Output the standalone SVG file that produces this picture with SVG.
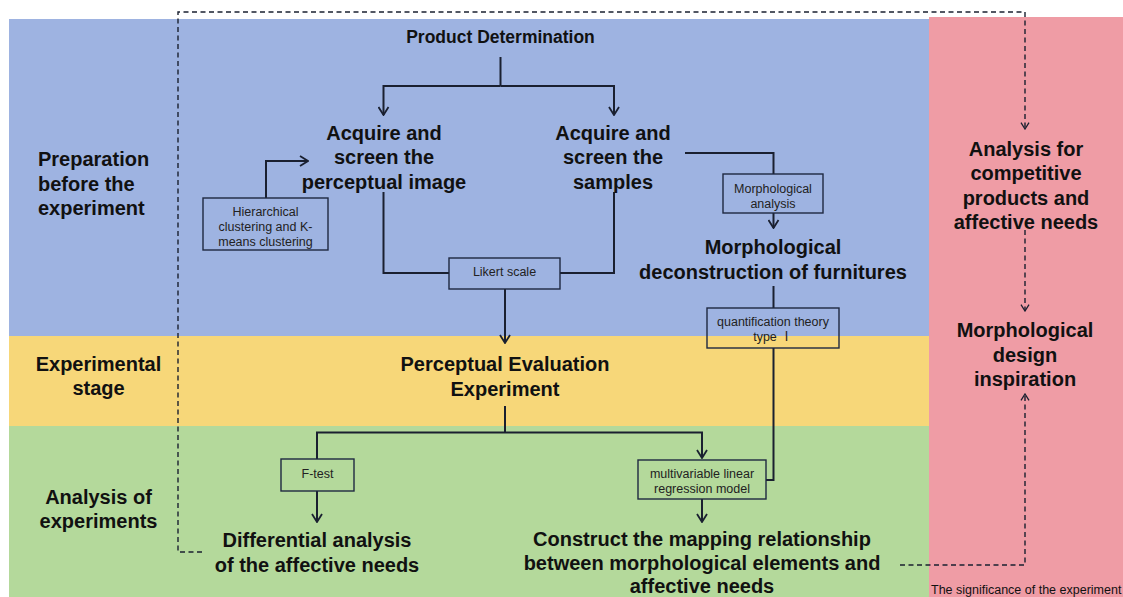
<svg xmlns="http://www.w3.org/2000/svg" width="1123" height="597" viewBox="0 0 1123 597">
<style>
.h{font-family:"Liberation Sans",Arial,sans-serif;font-weight:bold;font-size:20px;fill:#111;text-anchor:middle}
.hl{text-anchor:start}
.s{font-family:"Liberation Sans",Arial,"Noto Sans CJK SC",sans-serif;font-size:12.5px;fill:#222;text-anchor:middle}
.box{fill:none;stroke:#1f2840;stroke-width:1.4}
.c{fill:none;stroke:#1a2030;stroke-width:2}
.d{fill:none;stroke:#1a2030;stroke-width:1.4;stroke-dasharray:5 3.5}
</style>
<defs>
<marker id="a" markerUnits="userSpaceOnUse" viewBox="0 0 10 12" markerWidth="10" markerHeight="12" refX="9" refY="6" orient="auto">
<path d="M1,1 L9,6 L1,11" fill="none" stroke="#1a2030" stroke-width="1.8"/>
</marker>
<marker id="ad" markerUnits="userSpaceOnUse" viewBox="0 0 10 12" markerWidth="8" markerHeight="10" refX="9" refY="6" orient="auto">
<path d="M1,1 L9,6 L1,11" fill="none" stroke="#1a2030" stroke-width="1.6"/>
</marker>
</defs>
<rect width="1123" height="597" fill="#fff"/>
<g id="bands">
<rect x="9" y="19" width="920" height="317" fill="#9eb3e1"/>
<rect x="9" y="336" width="920" height="90" fill="#f7d779"/>
<rect x="9" y="426" width="920" height="171" fill="#b4d99b"/>
<rect x="929" y="17" width="194" height="580" fill="#ef9ca5"/>
</g>
<g id="connectors">
<path class="c" d="M500.5,57 V86"/>
<path class="c" d="M500.5,86 H383.5 V115" marker-end="url(#a)"/>
<path class="c" d="M500.5,86 H614 V115" marker-end="url(#a)"/>
<path class="c" d="M266,198 V161 H308" marker-end="url(#a)"/>
<path class="c" d="M685,153 H773.5 V174"/>
<path class="c" d="M773.5,213 V228" marker-end="url(#a)"/>
<path class="c" d="M383.5,192 V273 H449"/>
<path class="c" d="M614,192 V273 H560"/>
<path class="c" d="M505,289 V343" marker-end="url(#a)"/>
<path class="c" d="M773.5,286 V308"/>
<path class="c" d="M773.5,348 V480 H766"/>
<path class="c" d="M505,406 V432.5"/>
<path class="c" d="M505,432.5 H317 V459"/>
<path class="c" d="M505,432.5 H702 V458" marker-end="url(#a)"/>
<path class="c" d="M317,491 V522" marker-end="url(#a)"/>
<path class="c" d="M702,499 V522" marker-end="url(#a)"/>
<path class="d" d="M202,552 H178 V12 H1025 V129" marker-end="url(#ad)"/>
<path class="d" d="M1025,230 V311" marker-end="url(#ad)"/>
<path class="d" d="M900,565 H1025 V394" marker-end="url(#ad)"/>
</g>
<g id="stage-labels">
<text class="h hl" x="38"><tspan x="38" y="166">Preparation</tspan><tspan x="38" y="190.5">before the</tspan><tspan x="38" y="215">experiment</tspan></text>
<text class="h"><tspan x="98.5" y="370.5">Experimental</tspan><tspan x="98.5" y="395">stage</tspan></text>
<text class="h"><tspan x="98.5" y="503.5">Analysis of</tspan><tspan x="98.5" y="528">experiments</tspan></text>
</g>
<g id="product-determination">
<text class="h" x="500.5" y="43" style="font-size:17.5px">Product Determination</text>
</g>
<g id="acquire-image">
<text class="h"><tspan x="384" y="139.5">Acquire and</tspan><tspan x="384" y="164">screen the</tspan><tspan x="384" y="188.5">perceptual image</tspan></text>
</g>
<g id="acquire-samples">
<text class="h"><tspan x="613" y="139.5">Acquire and</tspan><tspan x="613" y="164">screen the</tspan><tspan x="613" y="188.5">samples</tspan></text>
</g>
<g id="hierarchical-clustering">
<rect class="box" x="203" y="198" width="125" height="52"/>
<text class="s"><tspan x="265.5" y="215.5">Hierarchical</tspan><tspan x="265.5" y="230.5">clustering and K-</tspan><tspan x="265.5" y="245.5">means clustering</tspan></text>
</g>
<g id="morphological-analysis">
<rect class="box" x="723" y="174" width="100" height="39"/>
<text class="s"><tspan x="773" y="192.5">Morphological</tspan><tspan x="773" y="207.5">analysis</tspan></text>
</g>
<g id="morphological-deconstruction">
<text class="h"><tspan x="773" y="254">Morphological</tspan><tspan x="773" y="278.5">deconstruction of furnitures</tspan></text>
</g>
<g id="likert-scale">
<rect class="box" x="449" y="258" width="111" height="31"/>
<text class="s" x="504.5" y="275.5">Likert scale</text>
</g>
<g id="quantification-theory">
<rect class="box" x="707" y="308" width="132" height="40"/>
<text class="s"><tspan x="773" y="325.5">quantification theory</tspan><tspan x="773" y="340.5">type  Ⅰ</tspan></text>
</g>
<g id="perceptual-evaluation">
<text class="h"><tspan x="505" y="371">Perceptual Evaluation</tspan><tspan x="505" y="395.5">Experiment</tspan></text>
</g>
<g id="f-test">
<rect class="box" x="281" y="459" width="73" height="32"/>
<text class="s" x="317.5" y="477.5">F-test</text>
</g>
<g id="multivariable-regression">
<rect class="box" x="638" y="460" width="128" height="39"/>
<text class="s"><tspan x="702" y="477.5">multivariable linear</tspan><tspan x="702" y="492.5">regression model</tspan></text>
</g>
<g id="differential-analysis">
<text class="h"><tspan x="317" y="547">Differential analysis</tspan><tspan x="317" y="572">of the affective needs</tspan></text>
</g>
<g id="mapping-relationship">
<text class="h"><tspan x="702" y="546">Construct the mapping relationship</tspan><tspan x="702" y="570">between morphological elements and</tspan><tspan x="702" y="593">affective needs</tspan></text>
</g>
<g id="competitive-analysis">
<text class="h"><tspan x="1026" y="155.5">Analysis for</tspan><tspan x="1026" y="180">competitive</tspan><tspan x="1026" y="204.5">products and</tspan><tspan x="1026" y="229">affective needs</tspan></text>
</g>
<g id="design-inspiration">
<text class="h"><tspan x="1025" y="337">Morphological</tspan><tspan x="1025" y="361.5">design</tspan><tspan x="1025" y="386">inspiration</tspan></text>
</g>
<g id="significance-label">
<text class="s" x="931" y="593.5" style="text-anchor:start;fill:#111">The significance of the experiment</text>
</g>
</svg>
